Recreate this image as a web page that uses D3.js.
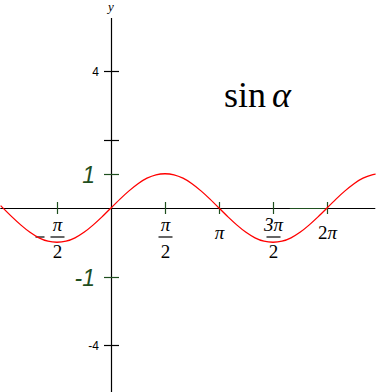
<!DOCTYPE html>
<html>
<head>
<meta charset="utf-8">
<script src="https://cdn.jsdelivr.net/npm/d3@7/dist/d3.min.js"></script>
<style>
html,body{margin:0;padding:0;background:#fff;}
svg{display:block;}
</style>
</head>
<body>
<svg id="chart" width="390" height="392"></svg>
<script>
// ---- data ----
const angleDeg = [-184,-165,-150,-135,-120,-105,-90,-75,-60,-45,-30,-15,0,15,30,45,60,75,90,105,120,135,150,165,180,195,210,225,240,255,270,285,300,315,330,345,360,375,390,405,420,435,441];
const sinValues = [0.07,-0.26,-0.5,-0.71,-0.87,-0.97,-1,-0.97,-0.87,-0.71,-0.5,-0.26,0,0.26,0.5,0.71,0.87,0.97,1,0.97,0.87,0.71,0.5,0.26,0,-0.26,-0.5,-0.71,-0.87,-0.97,-1,-0.97,-0.87,-0.71,-0.5,-0.26,0,0.26,0.5,0.71,0.87,0.97,0.99];
const xTickDeg = [-90, 90, 180, 270, 360];
const xTickNum = ["π", "π", "π", "3π", "2π"];
const xTickDen = ["2", "2", "", "2", ""];
const xTickNeg = [true, false, false, false, false];
const yTickVals = [4, 2, 1, -2, -4];
const yTickLabels = ["4", "", "1", "-1", "-4"];
const yTickGreen = [false, false, true, true, false];
const titleMain = "sin";
const titleVar = "α";
const yAxisTitle = "y";

// ---- scales ----
const svg = d3.select("#chart");
const x = d3.scaleLinear().domain([0, 360]).range([111, 327]);
const y = d3.scaleLinear().domain([0, 1]).range([208, 173.75]);
const green = "#1f4f1f";

// axes lines
svg.append("line").attr("x1", x(-184.5)).attr("x2", x(440.5))
  .attr("y1", y(0)+0.5).attr("y2", y(0)+0.5).attr("stroke", "#000").attr("stroke-width", 1.2);
svg.append("line").attr("x1", x(0)+0.5).attr("x2", x(0)+0.5)
  .attr("y1", y(5.55)).attr("y2", 392).attr("stroke", "#000").attr("stroke-width", 1.2);
// green segment on x axis
svg.append("line").attr("x1", x(298)).attr("x2", x(360))
  .attr("y1", y(0)+0.5).attr("y2", y(0)+0.5).attr("stroke", green).attr("stroke-width", 1.2);

// x ticks
xTickDeg.forEach((d, i) => {
  const cx = Math.round(x(d)) + 0.5;
  svg.append("line").attr("x1", cx).attr("x2", cx).attr("y1", 202).attr("y2", 214)
    .attr("stroke", green).attr("stroke-width", 1.2);
  if (xTickDen[i]) {
    svg.append("text").attr("x", cx).attr("y", 231).attr("text-anchor", "middle")
      .attr("font-family", "Liberation Serif").attr("font-size", 19).attr("font-style", "italic")
      .text(xTickNum[i]);
    svg.append("line").attr("x1", cx - 7).attr("x2", cx + 7).attr("y1", 237).attr("y2", 237)
      .attr("stroke", "#000").attr("stroke-width", 1.2);
    svg.append("text").attr("x", cx).attr("y", 258).attr("text-anchor", "middle")
      .attr("font-family", "Liberation Serif").attr("font-size", 19)
      .text(xTickDen[i]);
    if (xTickNeg[i]) {
      svg.append("line").attr("x1", cx - 22).attr("x2", cx - 13).attr("y1", 237).attr("y2", 237)
        .attr("stroke", "#000").attr("stroke-width", 1.2);
    }
  } else {
    const t = svg.append("text").attr("x", cx).attr("y", 239).attr("text-anchor", "middle")
      .attr("font-family", "Liberation Serif").attr("font-size", 19);
    const m = xTickNum[i].match(/^(\d*)(π)$/);
    if (m[1]) t.append("tspan").text(m[1]);
    t.append("tspan").attr("font-style", "italic").text(m[2]);
  }
});

// y ticks
yTickVals.forEach((v, i) => {
  const cy = Math.round(y(v)) + 0.5;
  svg.append("line").attr("x1", 104).attr("x2", 119).attr("y1", cy).attr("y2", cy)
    .attr("stroke", yTickGreen[i] ? green : "#000").attr("stroke-width", 1.2);
  if (!yTickLabels[i]) return;
  if (yTickGreen[i]) {
    svg.append("text").attr("x", 95).attr("y", cy + 8).attr("text-anchor", "end")
      .attr("font-family", "Liberation Sans").attr("font-style", "italic").attr("font-size", 23)
      .attr("fill", green).text(yTickLabels[i]);
  } else {
    svg.append("text").attr("x", 99).attr("y", cy + 4.5).attr("text-anchor", "end")
      .attr("font-family", "Liberation Sans").attr("font-size", 12)
      .attr("fill", "#000").text(yTickLabels[i]);
  }
});

// y axis title
svg.append("text").attr("x", 111).attr("y", 11).attr("text-anchor", "middle")
  .attr("font-family", "Liberation Serif").attr("font-style", "italic").attr("font-size", 13)
  .text(yAxisTitle);

// curve
const pts = angleDeg.map((a, i) => [a, sinValues[i]]);
svg.append("path").datum(pts)
  .attr("d", d3.line().x(d => x(d[0])).y(d => y(d[1])).curve(d3.curveNatural))
  .attr("fill", "none").attr("stroke", "#ff0000").attr("stroke-width", 1.3);

// title
svg.append("text").attr("x", 224).attr("y", 107)
  .attr("font-family", "Liberation Serif").attr("font-size", 36)
  .text(titleMain);
svg.append("text").attr("x", 272).attr("y", 107)
  .attr("font-family", "Liberation Serif").attr("font-style", "italic").attr("font-size", 36)
  .text(titleVar);
</script>
</body>
</html>
